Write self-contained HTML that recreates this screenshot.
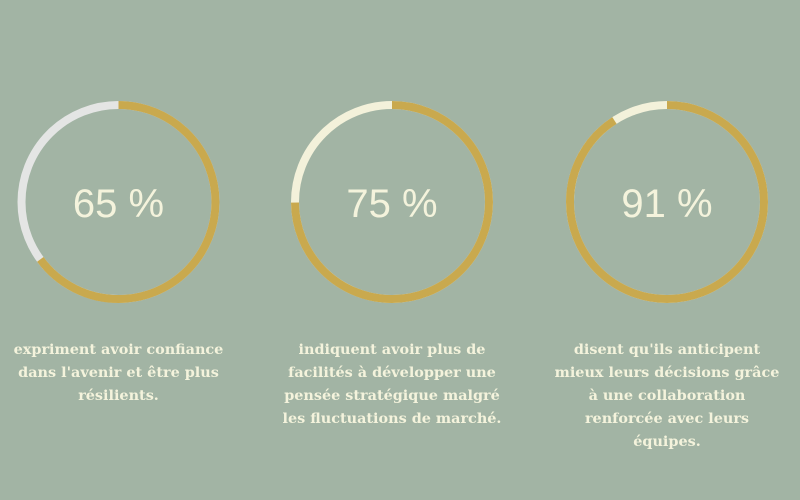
<!DOCTYPE html>
<html><head><meta charset="utf-8"><style>
body{margin:0;width:800px;height:500px;background:#a2b4a4;overflow:hidden;position:relative;font-family:"Liberation Sans",sans-serif}
svg{position:absolute;left:0;top:0}
.t{position:absolute;width:300px;text-align:center;font-family:"DejaVu Serif",serif;font-weight:bold;font-size:14.4px;line-height:23px;color:#f4f3dc;top:338px;white-space:nowrap}
</style></head><body>
<svg width="800" height="500">
<g fill="none" stroke-width="8">
<circle cx="118.5" cy="202" r="97" stroke="#e4e5e4"/>
<circle cx="118.5" cy="202" r="97" stroke="#c9a94e" pathLength="100" stroke-dasharray="65 100" transform="rotate(-90 118.5 202)"/>
<circle cx="392" cy="202" r="97" stroke="#f3f1da"/>
<circle cx="392" cy="202" r="97" stroke="#c9a94e" pathLength="100" stroke-dasharray="75 100" transform="rotate(-90 392 202)"/>
<circle cx="667" cy="202" r="97" stroke="#f3f1da"/>
<circle cx="667" cy="202" r="97" stroke="#c9a94e" pathLength="100" stroke-dasharray="91 100" transform="rotate(-90 667 202)"/>
</g>
<g fill="#f4f3dc" font-family="Liberation Sans, sans-serif" font-size="40" text-anchor="middle">
<text x="118.5" y="217">65 %</text>
<text x="392" y="217">75 %</text>
<text x="667" y="217">91 %</text>
</g>
</svg>
<div class="t" style="left:-31.5px">expriment avoir confiance<br>dans l'avenir et être plus<br>résilients.</div>
<div class="t" style="left:242px">indiquent avoir plus de<br>facilités à développer une<br>pensée stratégique malgré<br>les fluctuations de marché.</div>
<div class="t" style="left:517px">disent qu'ils anticipent<br>mieux leurs décisions grâce<br>à une collaboration<br>renforcée avec leurs<br>équipes.</div>
</body></html>
